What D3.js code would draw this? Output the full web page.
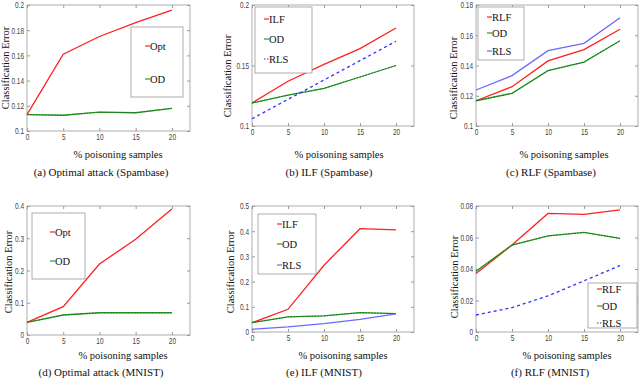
<!DOCTYPE html>
<html>
<head>
<meta charset="utf-8" />
<script src="https://d3js.org/d3.v7.min.js"></script>
<style>
  body { margin: 0; background: #fff; }
  .tick text { font-family: "Liberation Sans", "DejaVu Sans", sans-serif; font-size: 9px; fill: #444; }
  .serif { font-family: "Liberation Serif", "DejaVu Serif", serif; fill: #111; }
</style>
</head>
<body>
<svg id="chart" width="640" height="380"></svg>
<script>
// x values (% poisoning samples)
const xs = [0, 5, 10, 15, 20];

// (a) optimal attack, spambase
const aOpt = [0.113, 0.161, 0.175, 0.186, 0.196];
const aOD  = [0.113, 0.1125, 0.115, 0.1145, 0.118];
// (b) ILF, spambase
const bILF = [0.119, 0.137, 0.151, 0.164, 0.181];
const bOD  = [0.119, 0.1255, 0.131, 0.1405, 0.150];
const bRLS = [0.106, 0.122, 0.138, 0.154, 0.170];
// (c) RLF, spambase
const cRLF = [0.1167, 0.126, 0.143, 0.1505, 0.164];
const cOD  = [0.1167, 0.1216, 0.1366, 0.1423, 0.1564];
const cRLS = [0.1238, 0.1333, 0.1498, 0.1547, 0.1716];
// (d) optimal attack, mnist
const dOpt = [0.039, 0.088, 0.22, 0.297, 0.391];
const dOD  = [0.039, 0.062, 0.069, 0.069, 0.069];
// (e) ILF, mnist
const eILF = [0.037, 0.090, 0.265, 0.41, 0.405];
const eOD  = [0.037, 0.060, 0.064, 0.077, 0.073];
const eRLS = [0.011, 0.020, 0.033, 0.050, 0.072];
// (f) RLF, mnist
const fRLF = [0.0371, 0.0552, 0.0753, 0.0747, 0.0775];
const fOD  = [0.0386, 0.0552, 0.061, 0.0632, 0.0594];
const fRLS = [0.0108, 0.0155, 0.0229, 0.0325, 0.0422];

const xTicks = [0, 5, 10, 15, 20];
const captions = ["(a) Optimal attack (Spambase)", "(b) ILF (Spambase)", "(c) RLF (Spambase)",
                  "(d) Optimal attack (MNIST)", "(e) ILF (MNIST)", "(f) RLF (MNIST)"];

const RED = "#ff2020", GREEN = "#22a022", BLUE = "#3030ff", LBLUE = "#6a6aff";

// layout per panel: plot box, legend box, label positions
const panels = [
  { box: [27, 5, 190, 131], yDom: [0.1, 0.2], yTicks: [0.1, 0.12, 0.14, 0.16, 0.18, 0.2], fmt: d3.format(".2~f"),
    series: [{ name: "Opt", v: aOpt, c: RED }, { name: "OD", v: aOD, c: GREEN, od: true }],
    legend: [131, 27, 183, 97], legRows: [46, 79], legX: 145,
    xl: [118, 158], yl: [9, 68], cap: [101, 176] },
  { box: [252, 5, 414, 126], yDom: [0.1, 0.2], yTicks: [0.1, 0.15, 0.2], fmt: d3.format(".2~f"),
    series: [{ name: "ILF", v: bILF, c: RED }, { name: "OD", v: bOD, c: GREEN, od: true }, { name: "RLS", v: bRLS, c: BLUE, dash: true }],
    legend: [255, 7, 312, 73], legRows: [19, 39, 59], legX: 264,
    xl: [339, 158], yl: [231, 76], cap: [329, 176] },
  { box: [476, 5, 638, 126], yDom: [0.1, 0.18], yTicks: [0.1, 0.12, 0.14, 0.16, 0.18], fmt: d3.format(".2~f"),
    series: [{ name: "RLF", v: cRLF, c: RED }, { name: "OD", v: cOD, c: GREEN, od: true }, { name: "RLS", v: cRLS, c: LBLUE }],
    legend: [478, 7, 524, 60], legRows: [17, 33, 51], legX: 487,
    xl: [564, 158], yl: [457, 78], cap: [551, 176] },
  { box: [27, 206, 190, 335], yDom: [0, 0.4], yTicks: [0, 0.1, 0.2, 0.3, 0.4], fmt: d3.format(".1~f"),
    series: [{ name: "Opt", v: dOpt, c: RED }, { name: "OD", v: dOD, c: GREEN, od: true }],
    legend: [32, 213, 85, 279], legRows: [232, 261], legX: 50,
    xl: [123, 359], yl: [12, 272], cap: [101, 376] },
  { box: [252, 206, 414, 332], yDom: [0, 0.5], yTicks: [0, 0.1, 0.2, 0.3, 0.4, 0.5], fmt: d3.format(".1~f"),
    series: [{ name: "ILF", v: eILF, c: RED }, { name: "OD", v: eOD, c: GREEN, od: true }, { name: "RLS", v: eRLS, c: LBLUE }],
    legend: [258, 214, 316, 274], legRows: [224, 244, 265], legX: 277,
    xl: [343, 359], yl: [234, 272], cap: [324, 376] },
  { box: [476, 206, 638, 332], yDom: [0, 0.08], yTicks: [0, 0.02, 0.04, 0.06, 0.08], fmt: d3.format(".2~f"),
    series: [{ name: "RLF", v: fRLF, c: RED }, { name: "OD", v: fOD, c: GREEN, od: true }, { name: "RLS", v: fRLS, c: BLUE, dash: true }],
    legend: [588, 283, 637, 328], legRows: [289, 306, 323], legX: 597,
    xl: [567, 359], yl: [458, 277], cap: [550, 376] }
];

const svg = d3.select("#chart");
const SX = 0.72; // horizontal squeeze for the narrow tick font

panels.forEach(function(p, i) {
  const [x0, y0, x1, y1] = p.box;
  // x axis runs a bit past 20
  const xScale = d3.scaleLinear().domain([0, 22.5]).range([x0, x1]);
  const yScale = d3.scaleLinear().domain(p.yDom).range([y1, y0]);
  const g = svg.append("g");

  // frame
  g.append("rect")
    .attr("x", x0).attr("y", y0)
    .attr("width", x1 - x0).attr("height", y1 - y0)
    .attr("fill", "none").attr("stroke", "#9a9a9a").attr("stroke-width", 0.8);

  const xAxis = d3.axisBottom(xScale).tickValues(xTicks).tickSizeInner(-3).tickSizeOuter(0).tickPadding(3);
  const yAxis = d3.axisLeft(yScale).tickValues(p.yTicks).tickFormat(p.fmt).tickSizeInner(-3).tickSizeOuter(0).tickPadding(3);

  g.append("g").attr("transform", `translate(0,${y1})`).call(xAxis)
    .call(a => a.select(".domain").remove())
    .call(a => a.selectAll(".tick line").attr("stroke", "#9a9a9a"))
    .call(a => a.selectAll(".tick text").attr("transform", `scale(${SX},1)`));
  g.append("g").attr("transform", `translate(${x0},0)`).call(yAxis)
    .call(a => a.select(".domain").remove())
    .call(a => a.selectAll(".tick line").attr("stroke", "#9a9a9a"))
    .call(a => a.selectAll(".tick text").attr("x", -3 / SX).attr("transform", `scale(${SX},1)`));
  // mirrored ticks on top and right
  g.append("g").attr("transform", `translate(0,${y0})`)
    .call(d3.axisTop(xScale).tickValues(xTicks).tickSizeInner(-3).tickSizeOuter(0).tickFormat(""))
    .call(a => a.select(".domain").remove())
    .call(a => a.selectAll(".tick line").attr("stroke", "#9a9a9a"));
  g.append("g").attr("transform", `translate(${x1},0)`)
    .call(d3.axisRight(yScale).tickValues(p.yTicks).tickSizeInner(-3).tickSizeOuter(0).tickFormat(""))
    .call(a => a.select(".domain").remove())
    .call(a => a.selectAll(".tick line").attr("stroke", "#9a9a9a"));

  const line = d3.line().x((d, k) => xScale(xs[k])).y(d => yScale(d));

  p.series.forEach(function(s) {
    const path = g.append("path").datum(s.v)
      .attr("fill", "none").attr("stroke", s.c).attr("stroke-width", 1.3)
      .attr("d", line);
    if (s.dash) path.attr("stroke-dasharray", "3,3");
    if (s.od) {
      g.append("path").datum(s.v)
        .attr("fill", "none").attr("stroke", "#1a5a1a").attr("stroke-width", 0.8)
        .attr("stroke-dasharray", "1.5,1.5").attr("d", line);
    }
  });

  // legend
  const [lx0, ly0, lx1, ly1] = p.legend;
  g.append("rect")
    .attr("x", lx0).attr("y", ly0).attr("width", lx1 - lx0).attr("height", ly1 - ly0)
    .attr("fill", "#fff").attr("stroke", "#9a9a9a").attr("stroke-width", 0.8);
  p.series.forEach(function(s, k) {
    const ly = p.legRows[k];
    const seg = g.append("line")
      .attr("x1", p.legX).attr("x2", p.legX + 5).attr("y1", ly).attr("y2", ly)
      .attr("stroke", s.c).attr("stroke-width", 1.2);
    if (s.dash) seg.attr("stroke-dasharray", "1.5,1.5");
    g.append("text").attr("class", "serif")
      .attr("x", p.legX + 5).attr("y", ly + 3.5)
      .style("font-size", "10.5px")
      .text(s.name);
  });

  // axis labels
  g.append("text").attr("class", "serif")
    .attr("x", p.xl[0]).attr("y", p.xl[1])
    .attr("text-anchor", "middle").style("font-size", "10.5px")
    .text("% poisoning samples");
  // yl[0] is the baseline of the rotated label
  g.append("text").attr("class", "serif")
    .attr("transform", `translate(${p.yl[0]},${p.yl[1]}) rotate(-90)`)
    .attr("text-anchor", "middle").style("font-size", "10.5px")
    .text("Classification Error");

  // caption
  g.append("text").attr("class", "serif")
    .attr("x", p.cap[0]).attr("y", p.cap[1])
    .attr("text-anchor", "middle").style("font-size", "11px")
    .text(captions[i]);
});
</script>
</body>
</html>
